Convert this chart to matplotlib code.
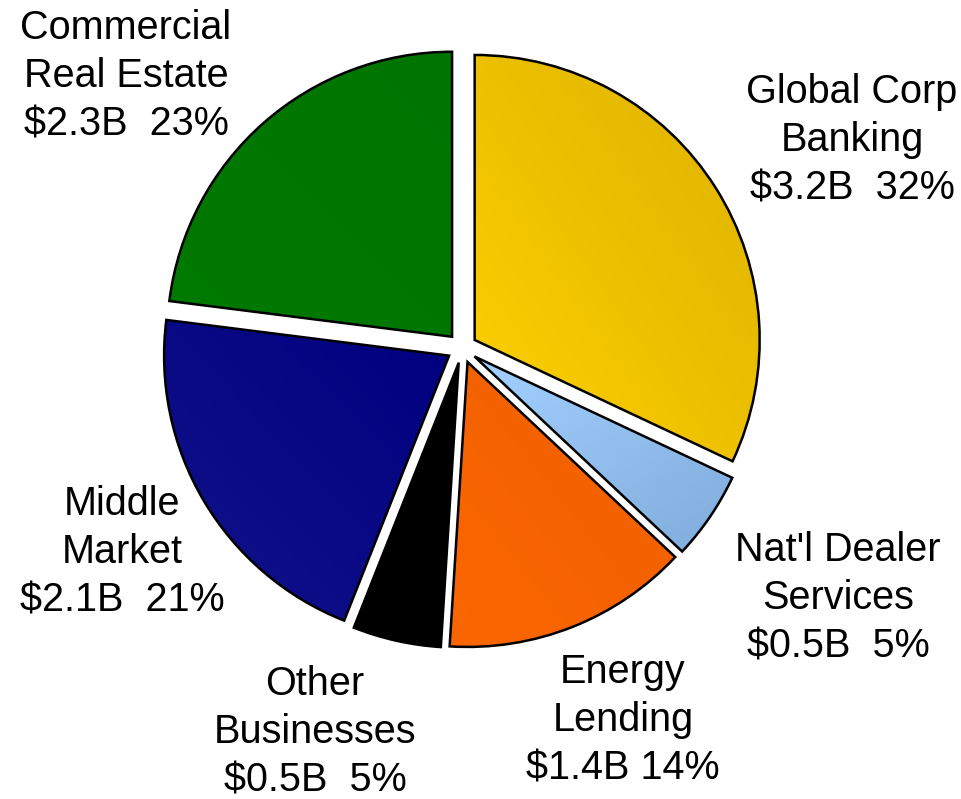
import numpy as np
import matplotlib.pyplot as plt
from matplotlib.colors import to_rgb

plt.rcParams['font.family'] = ['Liberation Sans', 'DejaVu Sans']

# commercial loan mix, clockwise from 12 o'clock
segments = ['Global Corp\nBanking', "Nat'l Dealer\nServices", 'Energy\nLending',
            'Other\nBusinesses', 'Middle\nMarket', 'Commercial\nReal Estate']
balances = [3.2, 0.5, 1.4, 0.5, 2.1, 2.3]   # $B
shares = [32, 5, 14, 5, 21, 23]             # %
value_text = ['$3.2B  32%', '$0.5B  5%', '$1.4B 14%', '$0.5B  5%', '$2.1B  21%', '$2.3B  23%']

# light -> dark shade for each slice, and which way the shade runs
shade_light = ['#ffd000', '#a2d0ff', '#fa6600', '#000000', '#12128a', '#007a00']
shade_dark = ['#dbb200', '#80acdb', '#f06000', '#000000', '#000080', '#007400']
shade_dir = ['up', 'down', 'up', 'up', 'up', 'up']

label_pos = [(852, 140), (838, 598), (623, 720), (315, 732), (122, 552), (126, 76)]

fig = plt.figure(figsize=(9.61, 7.99), dpi=100)
ax = fig.add_axes([0, 0, 1, 1])
H = 799

# explode is given in data units here (pixels), not as a fraction
wedges, _ = ax.pie(shares, center=(462, H - 348), radius=285, startangle=90,
                   counterclock=False, explode=[15] * len(shares),
                   wedgeprops=dict(edgecolor='black', linewidth=1.8))


def gradient_fill(w, c0, c1, direction):
    x0, y0, x1, y1 = w.get_window_extent().transformed(ax.transData.inverted()).extents
    n = 200
    gx, gy = np.meshgrid(np.linspace(0, 1, n), np.linspace(0, 1, n))
    if direction == 'up':
        t = (gx + gy) / 2          # light lower-left, dark upper-right
    else:
        t = (gx + 1 - gy) / 2      # light upper-left, dark lower-right
    t = np.clip(t, 0, 1)[..., None]
    img = (1 - t) * np.array(to_rgb(c0)) + t * np.array(to_rgb(c1))
    im = ax.imshow(img, extent=(x0, x1, y0, y1), origin='lower', zorder=w.get_zorder() - 0.1,
                   interpolation='bilinear')
    im.set_clip_path(w)
    w.set_facecolor('none')


for w, c0, c1, d in zip(wedges, shade_light, shade_dark, shade_dir):
    gradient_fill(w, c0, c1, d)

for name, val, (lx, ly) in zip(segments, value_text, label_pos):
    ax.text(lx, H - ly, name + '\n' + val, ha='center', va='center', fontsize=28.5,
            linespacing=1.34, color='black')

ax.set_xlim(0, 961)
ax.set_ylim(0, H)
ax.set_aspect('equal')
ax.axis('off')

fig.savefig('out.png', dpi=100)
